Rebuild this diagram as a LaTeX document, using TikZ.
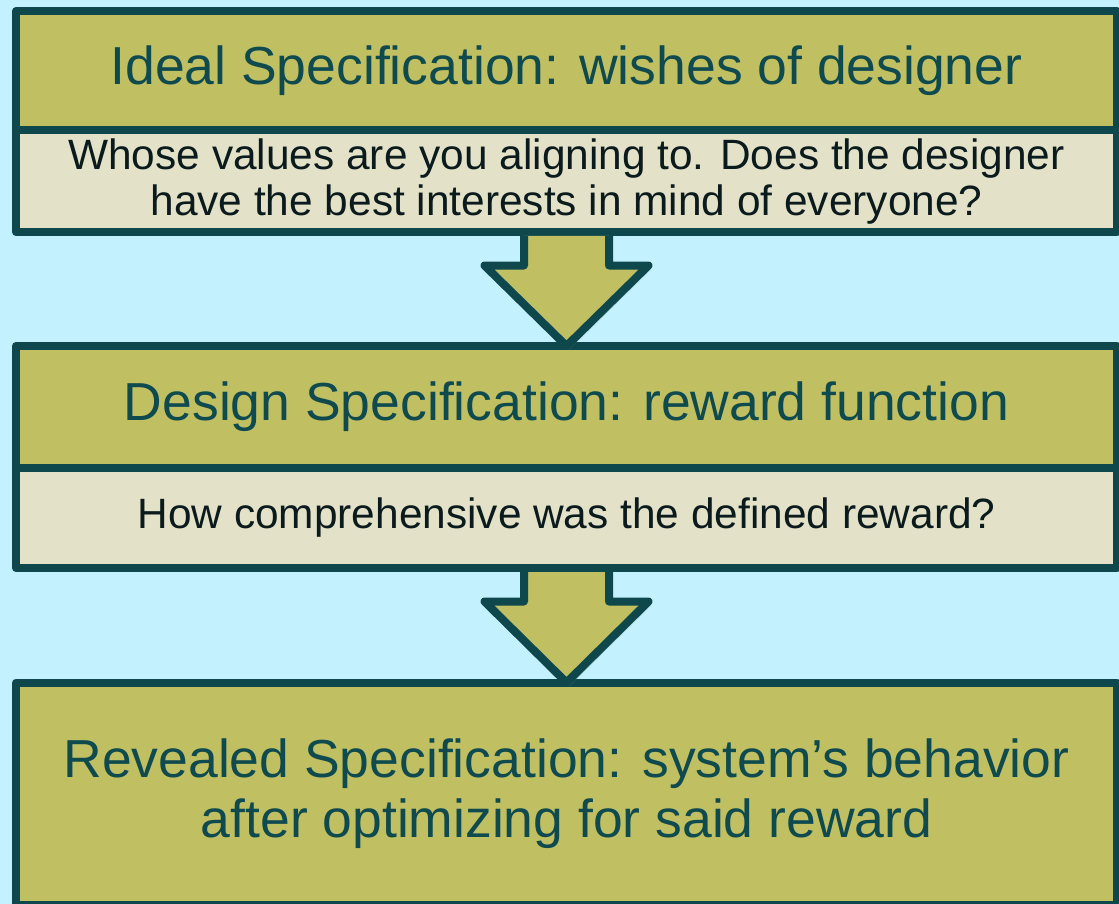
\documentclass[tikz,border=0pt]{standalone}
\usepackage{fontspec}
\setmainfont{Liberation Sans}
\usepackage{tikz}
\usetikzlibrary{calc,shadows}

\definecolor{skyback}{HTML}{C3F2FE}
\definecolor{olivefill}{HTML}{C0BF62}
\definecolor{beigefill}{HTML}{E3E2C8}
\definecolor{tealline}{HTML}{0E474C}
\definecolor{headtext}{HTML}{0F4A4F}
\definecolor{notetext}{HTML}{0B1A1C}

\tikzset{
	specbox/.style={draw=tealline, line width=8pt, line join=round, inner sep=0pt, outer sep=0pt,
		minimum width=1101pt, align=center, anchor=north west,
		drop shadow={shadow xshift=3pt, shadow yshift=-4pt, opacity=0.15}},
	headbox/.style={specbox, fill=olivefill, text=headtext, font=\fontsize{53.5}{60}\selectfont},
	notebox/.style={specbox, fill=beigefill, text=notetext, font=\fontsize{42.4}{46}\selectfont},
	arrowshape/.style={draw=tealline, fill=olivefill, line width=8pt, line join=round,
		drop shadow={shadow xshift=3pt, shadow yshift=-4pt, opacity=0.15}}
}

% block arrow from the bottom of one box to the top of the next
\newcommand{\flowarrow}[2]{%
	\draw[arrowshape] let \p1=(#1.south), \p2=(#2.north) in
		(\x1-42.5pt,\y1-4pt) -- (\x1-42.5pt,\y1-33.5pt) -- (\x1-82pt,\y1-33.5pt) -- (\x1,\y2)
		-- (\x1+82pt,\y1-33.5pt) -- (\x1+42.5pt,\y1-33.5pt) -- (\x1+42.5pt,\y1-4pt);
}

\begin{document}
\begin{tikzpicture}[x=1pt, y=-1pt]
	\useasboundingbox (0,0) rectangle (1119,904);
	\fill[skyback] (0,0) rectangle (1119,904);

	\node[headbox, minimum height=119.5pt] (ideal) at (16,11) {Ideal Specification: wishes of designer};
	\node[notebox, minimum height=101.5pt] (idealnote) at (16,130.5)
		{Whose values are you aligning to. Does the designer\\have the best interests in mind of everyone?};
	\node[headbox, minimum height=121.5pt] (design) at (16,346) {Design Specification: reward function};
	\node[notebox, minimum height=100.5pt] (designnote) at (16,467.5) {How comprehensive was the defined reward?};
	\node[headbox, minimum height=222pt] (revealed) at (16,682.5)
		{Revealed Specification: system’s behavior\\after optimizing for said reward};

	\foreach \s/\t in {idealnote/design, designnote/revealed} {
		\flowarrow{\s}{\t}
	}
\end{tikzpicture}
\end{document}
